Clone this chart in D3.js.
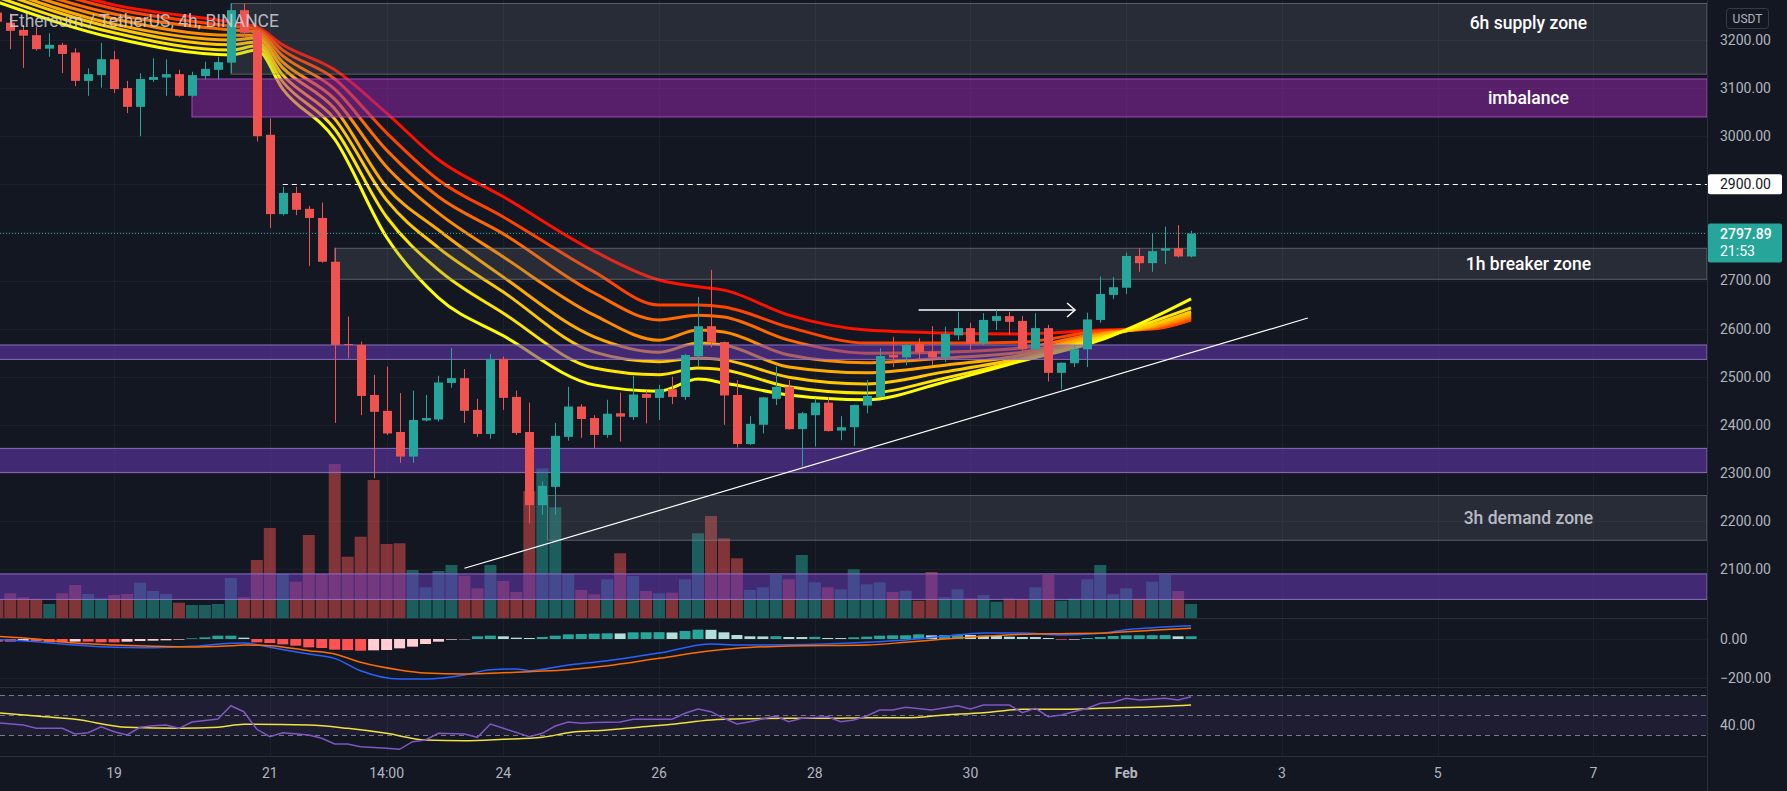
<!DOCTYPE html>
<html><head><meta charset="utf-8">
<script src="https://cdn.jsdelivr.net/npm/d3@7"></script>
<style>
html,body{margin:0;padding:0;background:#131722;overflow:hidden;}
svg{display:block;}
text{font-family:Roboto,"Noto Sans",sans-serif;}
</style></head><body>
<svg id="chart" width="1787" height="791"></svg>
<script>
// ---------------- DATA ----------------
// 4h candles, first one (index -1) opens 2022-01-17 12:00 UTC
const firstBarTime = Date.UTC(2022, 0, 17, 12);
const opens  = [3257,3236,3221,3210,3182,3190,3174,3115,3127,3160,3100,3061,3117,3122,3129,3084,3125,3138,3153,3262,3217,3003,2838,2882,2849,2830,2739,2568,2566,2462,2429,2385,2334,2409,2411,2487,2497,2431,2381,2537,2458,2385,2233,2271,2375,2438,2414,2379,2424,2416,2464,2456,2474,2458,2543,2605,2572,2462,2360,2400,2454,2479,2391,2420,2446,2388,2395,2440,2458,2545,2540,2568,2552,2540,2586,2601,2569,2616,2626,2616,2557,2601,2508,2528,2557,2618,2670,2685,2751,2736,2762,2767,2750];
const highs  = [3266,3255,3231,3228,3214,3194,3183,3141,3194,3177,3115,3131,3162,3160,3138,3134,3155,3165,3276,3276,3221,3037,2895,2895,2855,2862,2768,2625,2573,2504,2521,2466,2471,2462,2502,2560,2516,2454,2547,2542,2471,2446,2282,2404,2479,2443,2420,2452,2467,2502,2471,2483,2500,2547,2666,2722,2573,2493,2418,2458,2521,2493,2427,2455,2458,2418,2442,2493,2559,2583,2567,2580,2605,2604,2635,2612,2632,2639,2635,2626,2632,2608,2530,2566,2633,2708,2707,2758,2767,2798,2812,2815,2803.5];
const lows   = [3221,3181,3142,3178,3165,3131,3104,3084,3101,3090,3048,3000,3113,3084,3082,3082,3118,3118,3131,3207,2989,2809,2835,2836,2730,2737,2404,2538,2420,2289,2379,2321,2321,2407,2407,2477,2404,2375,2371,2431,2379,2195,2213,2213,2367,2373,2352,2373,2365,2410,2403,2410,2443,2452,2522,2561,2400,2353,2358,2382,2441,2390,2313,2355,2386,2368,2356,2424,2457,2520,2524,2535,2524,2531,2576,2556,2566,2597,2587,2552,2556,2490,2474,2520,2520,2612,2661,2672,2718,2718,2734,2748,2748];
const closes = [3238,3219,3209,3181,3190,3171,3115,3129,3160,3098,3061,3119,3123,3129,3084,3127,3140,3154,3262,3215,3000,2838,2882,2847,2830,2739,2566,2566,2460,2427,2382,2334,2410,2414,2488,2497,2429,2381,2537,2456,2383,2233,2273,2377,2438,2412,2379,2423,2417,2463,2456,2474,2458,2545,2605,2571,2461,2360,2402,2457,2479,2391,2424,2446,2387,2395,2441,2460,2543,2540,2566,2551,2540,2589,2601,2569,2618,2626,2614,2557,2601,2508,2529,2557,2619,2672,2686,2751,2736,2761,2767,2750,2797.89];
const volumes = [21,26.7,22.7,20.7,16,26.7,35,26,21.7,25,26,37.3,29,26,17.3,15,15,16,42,22.7,60,92,46,38.3,85,46,156,63.3,83.3,140,76,76.7,50,32.7,49,55,44.3,31.7,55,39,28,129,151.7,112.7,46,30,25.7,40.7,66.7,44,29,26.7,27.3,40.7,86.7,104,81.7,61.7,30,32.7,45,40.7,65,37.7,32.7,30.7,50.7,35.7,37.7,28,29.3,19.3,48,22.7,30.7,21.7,25,18.3,21.7,21,32.7,45.3,19.3,21.3,40.7,55,25.7,31.7,21.3,38.3,45.3,29,16];

// EMA ribbon, read at these bar indices (fastest -> slowest)
const ribbonBars = [-1,8,17,19,21,25,29,33,38,45,50,53,55,60,66,72,78,84,88,91];
const ema1 = [3279,3204,3169,3179,3098,2994,2790,2664,2585,2483,2470,2495,2487,2462,2452,2489,2533,2576,2622,2662];
const ema2 = [3289,3215,3179,3188,3113,3015,2832,2722,2632,2518,2504,2518,2514,2479,2466,2497,2535,2580,2614,2643];
const ema3 = [3300,3225,3190,3196,3127,3036,2867,2768,2676,2551,2531,2539,2535,2499,2485,2510,2539,2583,2608,2635];
const ema4 = [3308,3233,3200,3204,3142,3057,2894,2805,2707,2583,2551,2570,2566,2520,2508,2524,2545,2587,2605,2630];
const ema5 = [3316,3244,3210,3210,3154,3077,2936,2840,2749,2628,2576,2597,2593,2545,2529,2539,2551,2589,2603,2626];
const ema6 = [3325,3254,3221,3217,3167,3098,2971,2874,2797,2674,2618,2628,2624,2576,2549,2551,2560,2591,2601,2622];
const ema7 = [3335,3265,3229,3223,3179,3119,3007,2909,2832,2718,2649,2649,2645,2603,2570,2570,2572,2595,2599,2618];
const ema8 = [3346,3273,3237,3227,3190,3138,3048,2951,2874,2761,2701,2687,2680,2628,2597,2591,2589,2597,2601,2624];

// MACD histogram per bar (index -1..91)
const macdHist = [-13.7,-13.7,-10.3,-10.3,-17.1,-17.1,-13.7,-13.7,-17.1,-17.1,-13.7,-10.3,-8.6,-6.8,-3.4,3.4,8.6,17.1,17.1,6.8,-17.1,-20.5,-27.4,-34.2,-42.8,-46.2,-54.7,-57,-60,-58,-56.4,-47.9,-39.3,-25.7,-13.7,-3.4,-1.7,13.7,17.1,13.7,6.8,5.1,10.3,17.1,23.9,25.7,27.4,29.1,28.5,34.2,34.5,35,33.5,41,47.9,47,34.2,20.5,13.7,13.2,14.5,10.3,10,11,5.1,4.8,8.6,12,17.1,18.8,19,23.9,18.8,20.5,22.2,20.5,17.1,15.4,12,10.3,10,5.1,-3.4,-3.2,5.1,10.3,15.4,18.8,19,19.5,20,13.7,14];
const macdBars   = [-1,2,5,8,11,14,17,18,20,23,25,27,30,32,35,37,39,40,43,45,50,54,56,60,66,69,72,75,78,81,84,86,88,91];
const macdLine   = [-3.4,-13.7,-30.8,-42.8,-44.5,-37.6,-22.2,-20.5,-42.8,-77,-99.2,-162.5,-205,-205,-184.7,-157.3,-153.9,-162.5,-133.4,-119.7,-71.8,-25.7,-30.8,-30,-17.1,-5.1,13.7,30.8,30.8,20.5,29.1,47.9,58.1,68.4];
const signalLine = [13.7,0,-20.5,-30.8,-37.6,-41,-34.2,-30.8,-34.2,-59.9,-77,-119.7,-159,-174.4,-179.6,-176.2,-171,-167.6,-157.3,-145.4,-99.2,-59.9,-47.9,-36,-30.8,-17.1,0,13.7,23.9,27.4,29.1,37.6,44.5,54.7];

// RSI and its moving average
const rsiBars   = [-1,1,2,4,5,6,7,8,9,10,11,12,13,14,16,17,18,19,20,21,23,24,25,26,27,29,30,31,32,33,35,36,37,38,40,41,42,43,44,45,47,48,51,52,53,54,55,56,57,59,60,61,63,64,65,66,67,68,69,71,73,74,75,77,78,79,80,81,83,84,85,86,87,89,90,91];
const rsiValues = [42.3,40,36.7,36.7,31,32.3,38.3,33.3,30,37.7,39.3,40,36.7,43,46,59.3,53.3,35.7,28.3,32.3,30,26.7,21,21,18.3,16.7,15.7,23.3,25,31.7,31,27.7,41,36.7,28.3,31.7,39,43,41.7,42.5,43,45.7,45.7,51.7,56,53.3,46.7,41,43.3,49,43.3,46.7,48.3,43.3,45,49,55,55,57.7,55,59.3,56,60,60,52.3,56.7,48.3,50,56.7,61.7,62.7,66.7,65,66.7,65,68.3];
const rsiMaBars   = [-1,2,5,9,13,16,18,23,26,29,32,35,38,41,43,46,48,51,54,57,60,63,66,69,72,75,78,81,84,87,91];
const rsiMaValues = [52.3,49,45.7,37.7,36.7,37.7,40.7,40,36.7,31.7,25,24.3,25.7,27.7,32.3,35,37.3,40.7,45,46.3,46.7,46.7,47.3,47.3,50,52.3,55.7,55.7,56.7,57.7,60];

// axes
const priceTicks = [3200,3100,3000,2700,2600,2500,2400,2300,2200,2100];
const gridPrices = [3200,3100,3000,2900,2800,2700,2600,2500,2400,2300,2200,2100];
const macdTicks = [0, -200];
const rsiTicks = [40];
const timeTicks  = ["2022-01-19T00:00Z","2022-01-21T00:00Z","2022-01-22T12:00Z","2022-01-24T00:00Z","2022-01-26T00:00Z","2022-01-28T00:00Z","2022-01-30T00:00Z","2022-02-01T00:00Z","2022-02-03T00:00Z","2022-02-05T00:00Z","2022-02-07T00:00Z"];
const timeLabels = ["19","21","14:00","24","26","28","30","Feb","3","5","7"];

// zones (price top, price bottom, starting bar)
const zoneNames  = ["6h supply zone","imbalance","1h breaker zone","","","3h demand zone",""];
const zoneTops   = [3276,3119,2767,2566,2351,2253,2090];
const zoneBottoms= [3129,3040,2702.5,2536,2301,2160,2037];
const zoneStart  = [17,14,25,-3,-3,41.4,-3];
const zoneKinds  = ["gray","imb","gray","purple","purple","gray","purple"];
const zoneLabelPrice = [3236,3080,2735,0,0,2206,0];

// drawings
const trendBars = [35,100], trendPrices = [2101.7,2622];
const arrowBars = [70,82.06], arrowPrice = 2638.7;
const levelPrice = 2900, levelStartBar = 21;
const lastPrice = 2797.89, countdown = "21:53";

// ---------------- LAYOUT ----------------
const svg = d3.select("#chart");
const W = 1787, H = 791, plotR = 1707;
const mainTop = 0, mainBot = 618, macdTop = 618, macdBot = 687, rsiTop = 687, rsiBot = 756;
const BG = "#131722", GRID = "#1c202b", SEP = "#2a2e39", AXT = "#b2b5be";
const UP = "#26a69a", DN = "#ef5350";

const barTime = i => new Date(firstBarTime + (i + 1) * 4 * 3600e3);
const x = d3.scaleUtc().domain([Date.UTC(2022,0,19), Date.UTC(2022,1,1)]).range([114.1, 1126.2]);
const xb = i => x(barTime(i));
const y = d3.scaleLinear().domain([2100, 3200]).range([569.1, 40]);
const yv = d3.scaleLinear().domain([0, 156]).range([620, 464]);
const ym = d3.scaleLinear().domain([-200, 0]).range([678, 639]);
const yr = d3.scaleLinear().domain([30, 70]).range([735, 695]);

svg.append("rect").attr("width", W).attr("height", H).attr("fill", BG);

const defs = svg.append("defs");
function clip(id, y0, y1) {
  defs.append("clipPath").attr("id", id).append("rect").attr("x", 0).attr("y", y0).attr("width", plotR).attr("height", y1 - y0);
}
clip("cMain", mainTop, mainBot); clip("cMacd", macdTop, macdBot); clip("cRsi", rsiTop, rsiBot);

// grid
const grid = svg.append("g");
timeTicks.forEach(t => {
  const xx = Math.round(x(new Date(t))) + 0.5;
  grid.append("line").attr("x1", xx).attr("x2", xx).attr("y1", 0).attr("y2", rsiBot).attr("stroke", GRID);
});
gridPrices.forEach(p => {
  const yy = Math.round(y(p)) + 0.5;
  grid.append("line").attr("x1", 0).attr("x2", plotR).attr("y1", yy).attr("y2", yy).attr("stroke", GRID);
});
macdTicks.forEach(v => {
  const yy = Math.round(ym(v)) + 0.5;
  grid.append("line").attr("x1", 0).attr("x2", plotR).attr("y1", yy).attr("y2", yy).attr("stroke", GRID);
});

const bars = opens.map((o, k) => ({ i: k - 1, o, h: highs[k], l: lows[k], c: closes[k], v: volumes[k], m: macdHist[k] }));

// ---------- main pane ----------
const gMain = svg.append("g").attr("clip-path", "url(#cMain)");
const bw = xb(1) - xb(0);

// volume
gMain.append("g").selectAll("rect").data(bars).join("rect")
  .attr("x", d => xb(d.i) - bw / 2 + 0.5)
  .attr("width", bw - 1)
  .attr("y", d => yv(d.v))
  .attr("height", d => yv(0) - yv(d.v))
  .attr("fill", d => d.c >= d.o ? UP : DN)
  .attr("fill-opacity", 0.5);

// ribbon
const ribbon = [ema8, ema7, ema6, ema5, ema4, ema3, ema2, ema1];
const ribbonColors = ["#ff1100", "#ff4400", "#ff6a00", "#ff8c00", "#ffaa00", "#ffc800", "#ffe500", "#ffff00"];
const lineR = d3.line().x(d => xb(d[0])).y(d => y(d[1])).curve(d3.curveMonotoneX);
ribbon.forEach((s, k) => {
  gMain.append("path").datum(ribbonBars.map((b, j) => [b, s[j]]))
    .attr("d", lineR).attr("fill", "none").attr("stroke", ribbonColors[k]).attr("stroke-width", 3);
});

// zones
const zoneFill = { gray: "rgba(120,123,134,0.22)", imb: "rgba(156,39,176,0.5)", purple: "rgba(103,58,183,0.55)" };
const zoneStroke = { gray: "rgba(140,143,154,0.55)", imb: "rgba(186,85,211,0.8)", purple: "rgba(149,117,205,0.9)" };
zoneNames.forEach((n, k) => {
  const x0 = xb(zoneStart[k]), y0 = y(zoneTops[k]), y1 = y(zoneBottoms[k]);
  gMain.append("rect").attr("x", x0).attr("y", y0).attr("width", plotR - x0).attr("height", y1 - y0)
    .attr("fill", zoneFill[zoneKinds[k]]).attr("stroke", zoneStroke[zoneKinds[k]]).attr("stroke-width", 1);
});

// trend line + arrow
gMain.append("line").attr("x1", xb(trendBars[0])).attr("y1", y(trendPrices[0]))
  .attr("x2", xb(trendBars[1])).attr("y2", y(trendPrices[1])).attr("stroke", "#ffffff").attr("stroke-width", 1.2);
const ay = y(arrowPrice), ax0 = xb(arrowBars[0]), ax1 = xb(arrowBars[1]);
gMain.append("line").attr("x1", ax0).attr("x2", ax1).attr("y1", ay).attr("y2", ay).attr("stroke", "#ffffff").attr("stroke-width", 1.5);
gMain.append("path").attr("d", `M${ax1 - 8},${ay - 7}L${ax1},${ay}L${ax1 - 8},${ay + 7}`)
  .attr("fill", "none").attr("stroke", "#ffffff").attr("stroke-width", 1.5);

// candles
const gC = gMain.append("g");
gC.selectAll("line").data(bars).join("line")
  .attr("x1", d => Math.round(xb(d.i)) + 0.5).attr("x2", d => Math.round(xb(d.i)) + 0.5)
  .attr("y1", d => y(d.h)).attr("y2", d => y(d.l))
  .attr("stroke", d => d.c >= d.o ? UP : DN).attr("stroke-width", 1);
gC.selectAll("rect").data(bars).join("rect")
  .attr("x", d => Math.round(xb(d.i)) + 0.5 - 4.5).attr("width", 9)
  .attr("y", d => y(Math.max(d.o, d.c)))
  .attr("height", d => Math.max(1, Math.abs(y(d.o) - y(d.c))))
  .attr("fill", d => d.c >= d.o ? UP : DN);

// level lines
const ly = Math.round(y(levelPrice)) + 0.5;
gMain.append("line").attr("x1", xb(levelStartBar)).attr("x2", plotR).attr("y1", ly).attr("y2", ly)
  .attr("stroke", "#ffffff").attr("stroke-dasharray", "5,4").attr("stroke-width", 1);
const cy = Math.round(y(lastPrice)) + 0.5;
gMain.append("line").attr("x1", 0).attr("x2", plotR).attr("y1", cy).attr("y2", cy)
  .attr("stroke", UP).attr("stroke-dasharray", "1,2").attr("stroke-width", 1);

// zone labels
zoneNames.forEach((n, k) => {
  if (!n) return;
  gMain.append("text").attr("x", xb(117)).attr("y", y(zoneLabelPrice[k])).attr("dy", "0.35em")
    .attr("text-anchor", "middle").attr("font-size", 17.5).attr("font-weight", 500)
    .attr("fill", k === 5 ? "#b8bbc4" : "#ffffff").text(n);
});

// title
svg.append("text").attr("x", 9).attr("y", 21).attr("dy", "0.35em").attr("font-size", 17.5)
  .attr("fill", "#d1d4dc").attr("fill-opacity", 0.85).text("Ethereum / TetherUS, 4h, BINANCE");

// ---------- MACD pane ----------
const gM = svg.append("g").attr("clip-path", "url(#cMacd)");
gM.selectAll("rect").data(bars).join("rect")
  .attr("x", d => xb(d.i) - bw / 2 + 1).attr("width", bw - 2)
  .attr("y", d => ym(Math.max(0, d.m))).attr("height", d => Math.abs(ym(d.m) - ym(0)))
  .attr("fill", (d, k) => {
    const prev = k > 0 ? bars[k - 1].m : d.m;
    if (d.m >= 0) return d.m >= prev ? "#26a69a" : "#b2dfdb";
    return d.m <= prev ? "#ff5252" : "#ffcdd2";
  });
const lineM = d3.line().x(d => xb(d[0])).y(d => ym(d[1])).curve(d3.curveMonotoneX);
gM.append("path").datum(macdBars.map((b, j) => [b, macdLine[j]])).attr("d", lineM)
  .attr("fill", "none").attr("stroke", "#2962ff").attr("stroke-width", 1.5);
gM.append("path").datum(macdBars.map((b, j) => [b, signalLine[j]])).attr("d", lineM)
  .attr("fill", "none").attr("stroke", "#ff6d00").attr("stroke-width", 1.5);

// ---------- RSI pane ----------
const gR = svg.append("g").attr("clip-path", "url(#cRsi)");
gR.append("rect").attr("x", 0).attr("width", plotR).attr("y", yr(70)).attr("height", yr(30) - yr(70))
  .attr("fill", "rgba(126,87,194,0.1)");
[70, 50, 30].forEach(v => {
  const yy = Math.round(yr(v)) + 0.5;
  gR.append("line").attr("x1", 0).attr("x2", plotR).attr("y1", yy).attr("y2", yy)
    .attr("stroke", "#787b86").attr("stroke-dasharray", "5,4").attr("stroke-width", 1);
});
gR.append("path").datum(rsiMaBars.map((b, j) => [b, rsiMaValues[j]]))
  .attr("d", d3.line().x(d => xb(d[0])).y(d => yr(d[1])).curve(d3.curveMonotoneX))
  .attr("fill", "none").attr("stroke", "#f0e040").attr("stroke-width", 1.5);
gR.append("path").datum(rsiBars.map((b, j) => [b, rsiValues[j]]))
  .attr("d", d3.line().x(d => xb(d[0])).y(d => yr(d[1])))
  .attr("fill", "none").attr("stroke", "#7e57c2").attr("stroke-width", 1.5);

// ---------- separators ----------
[mainBot, macdBot, rsiBot].forEach(v => {
  svg.append("line").attr("x1", 0).attr("x2", plotR).attr("y1", v + 0.5).attr("y2", v + 0.5).attr("stroke", SEP);
});
svg.append("line").attr("x1", plotR + 0.5).attr("x2", plotR + 0.5).attr("y1", 0).attr("y2", H).attr("stroke", SEP);

// ---------- price axis ----------
const fmt = d3.format(".2f");
const axG = svg.append("g");
priceTicks.forEach(p => {
  axG.append("text").attr("x", 1720).attr("y", y(p)).attr("dy", "0.35em").attr("font-size", 14).attr("fill", AXT).text(fmt(p));
});
macdTicks.forEach(v => axG.append("text").attr("x", 1720).attr("y", ym(v)).attr("dy", "0.35em").attr("font-size", 14).attr("fill", AXT).text(fmt(v).replace("-", "\u2212")));
rsiTicks.forEach(v => axG.append("text").attr("x", 1720).attr("y", yr(v)).attr("dy", "0.35em").attr("font-size", 14).attr("fill", AXT).text(fmt(v)));

// USDT box
axG.append("rect").attr("x", 1726.5).attr("y", 8.5).attr("width", 42).attr("height", 20).attr("rx", 3)
  .attr("fill", BG).attr("stroke", "#363a45");
axG.append("text").attr("x", 1747.5).attr("y", 18.5).attr("dy", "0.35em").attr("text-anchor", "middle")
  .attr("font-size", 12).attr("fill", AXT).text("USDT");

// 2900 label
axG.append("rect").attr("x", plotR + 1).attr("y", y(levelPrice) - 10).attr("width", 74).attr("height", 20).attr("rx", 2).attr("fill", "#ffffff");
axG.append("text").attr("x", 1720).attr("y", y(levelPrice)).attr("dy", "0.35em").attr("font-size", 14).attr("fill", "#131722").text(fmt(levelPrice));

// last price label
axG.append("rect").attr("x", plotR + 1).attr("y", y(lastPrice) - 10).attr("width", 74).attr("height", 39).attr("rx", 2).attr("fill", UP);
axG.append("text").attr("x", 1720).attr("y", y(lastPrice) + 0.5).attr("dy", "0.35em").attr("font-size", 14).attr("font-weight", 500).attr("fill", "#ffffff").text(fmt(lastPrice));
axG.append("text").attr("x", 1720).attr("y", y(lastPrice) + 18).attr("dy", "0.35em").attr("font-size", 14).attr("fill", "#ffffff").text(countdown);

// ---------- time axis ----------
timeTicks.forEach((t, k) => {
  svg.append("text").attr("x", x(new Date(t))).attr("y", 773).attr("dy", "0.35em").attr("text-anchor", "middle")
    .attr("font-size", 14).attr("font-weight", timeLabels[k] === "Feb" ? 700 : 400).attr("fill", AXT).text(timeLabels[k]);
});
</script>
</body></html>
